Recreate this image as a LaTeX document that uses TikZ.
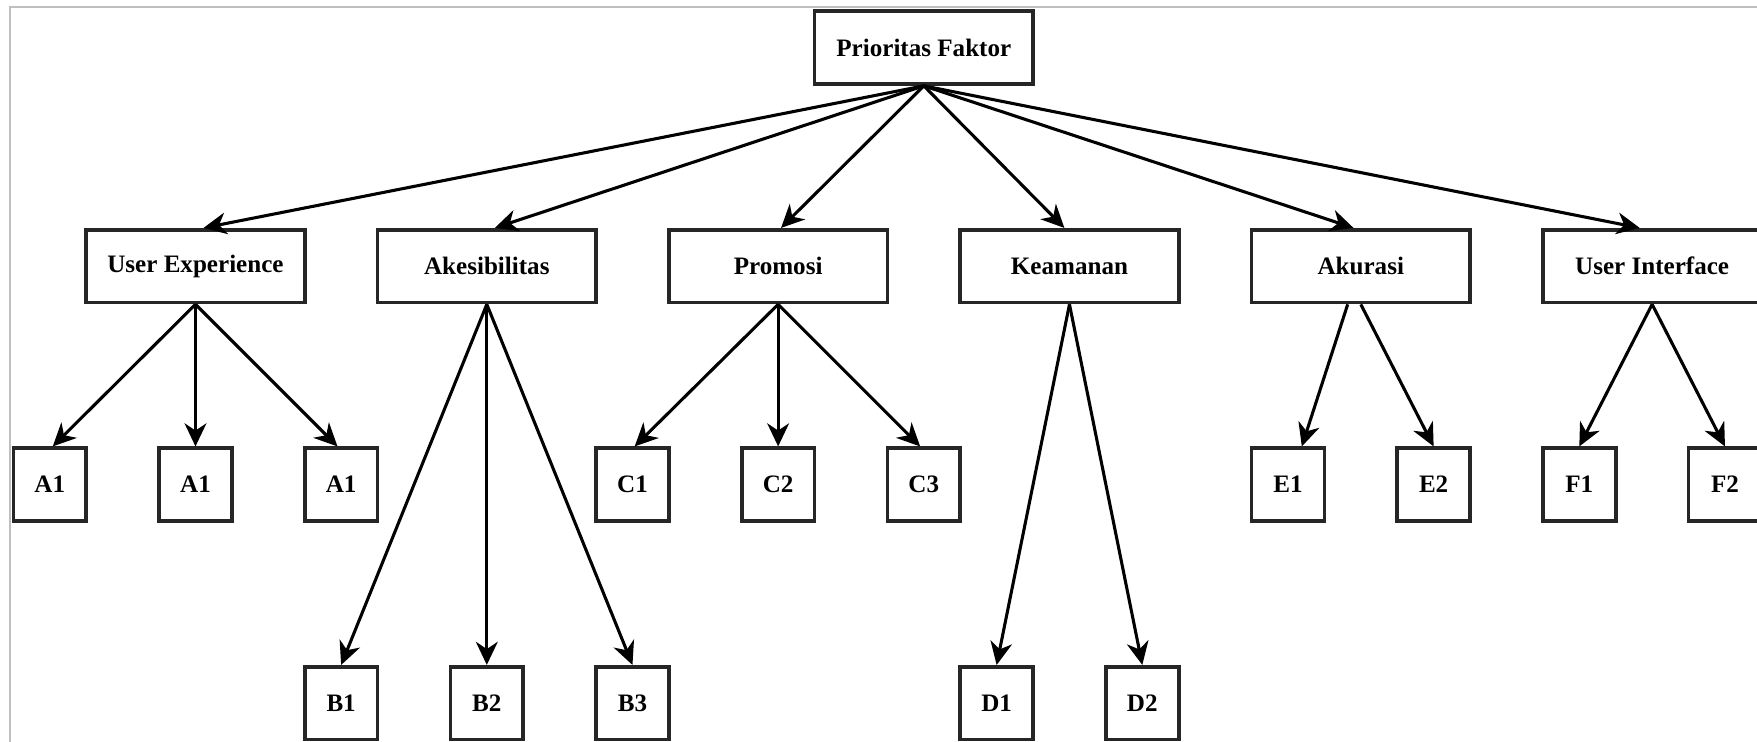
\documentclass[tikz,border=0pt]{standalone}
\usepackage{fontspec}
\setmainfont{Liberation Serif}
\usepackage{tikz}
\usetikzlibrary{arrows.meta}

\tikzset{
    bigbox/.style={shape=rectangle,draw=black!85,line width=1.4pt,minimum width=3cm,minimum height=1cm,inner sep=0pt,font=\bfseries\fontsize{9.8}{12}\selectfont},
    smallbox/.style={bigbox,minimum width=1cm},
    link/.style={->,line width=1.2pt}
}

\begin{document}
\begin{tikzpicture}[>={Stealth[length=9pt,width=8.5pt,inset=2.8pt]}]
                \useasboundingbox (-0.184,0.154) rectangle (23.94,-10.02);
                \draw[black!25,line width=0.6pt] (25,0.06) -- (-0.05,0.06) -- (-0.05,-11);

                \node[bigbox] (P) at (12.5,-0.5) {Prioritas Faktor};

                \node[bigbox] (UE) at (2.5,-3.5) {User Experience};
                \node[bigbox] (AK) at (6.5,-3.5) {Akesibilitas};
                \node[bigbox] (PR) at (10.5,-3.5) {Promosi};
                \node[bigbox] (KE) at (14.5,-3.5) {Keamanan};
                \node[bigbox] (AU) at (18.5,-3.5) {Akurasi};
                \node[bigbox] (UI) at (22.5,-3.5) {User Interface};

                \node[smallbox] (A1) at (0.5,-6.5) {A1};
                \node[smallbox] (A2) at (2.5,-6.5) {A1};
                \node[smallbox] (A3) at (4.5,-6.5) {A1};
                \node[smallbox] (C1) at (8.5,-6.5) {C1};
                \node[smallbox] (C2) at (10.5,-6.5) {C2};
                \node[smallbox] (C3) at (12.5,-6.5) {C3};
                \node[smallbox] (E1) at (17.5,-6.5) {E1};
                \node[smallbox] (E2) at (19.5,-6.5) {E2};
                \node[smallbox] (F1) at (21.5,-6.5) {F1};
                \node[smallbox] (F2) at (23.5,-6.5) {F2};

                \node[smallbox] (B1) at (4.5,-9.5) {B1};
                \node[smallbox] (B2) at (6.5,-9.5) {B2};
                \node[smallbox] (B3) at (8.5,-9.5) {B3};
                \node[smallbox] (D1) at (13.5,-9.5) {D1};
                \node[smallbox] (D2) at (15.5,-9.5) {D2};

                \path [link](P.south) edge ([xshift=0.11cm]UE.north);
                \path [link](P.south) edge ([xshift=0.11cm]AK.north);
                \path [link](P.south) edge ([xshift=0.04cm]PR.north);
                \path [link](P.south) edge ([xshift=-0.07cm]KE.north);
                \path [link](P.south) edge ([xshift=-0.1cm]AU.north);
                \path [link](P.south) edge ([xshift=-0.17cm]UI.north);

                \path [link](UE.south) edge ([xshift=0.04cm]A1.north);
                \path [link](UE.south) edge (A2.north);
                \path [link](UE.south) edge ([xshift=-0.05cm]A3.north);
                \path [link](AK.south) edge (B1.north);
                \path [link](AK.south) edge (B2.north);
                \path [link](AK.south) edge (B3.north);
                \path [link](PR.south) edge ([xshift=0.03cm]C1.north);
                \path [link](PR.south) edge (C2.north);
                \path [link](PR.south) edge ([xshift=-0.05cm]C3.north);
                \path [link](KE.south) edge (D1.north);
                \path [link](KE.south) edge (D2.north);
                \path [link]([xshift=-0.18cm]AU.south) edge ([xshift=0.19cm]E1.north);
                \path [link](AU.south) edge (E2.north);
                \path [link](UI.south) edge (F1.north);
                \path [link](UI.south) edge (F2.north);
            \end{tikzpicture}
\end{document}
